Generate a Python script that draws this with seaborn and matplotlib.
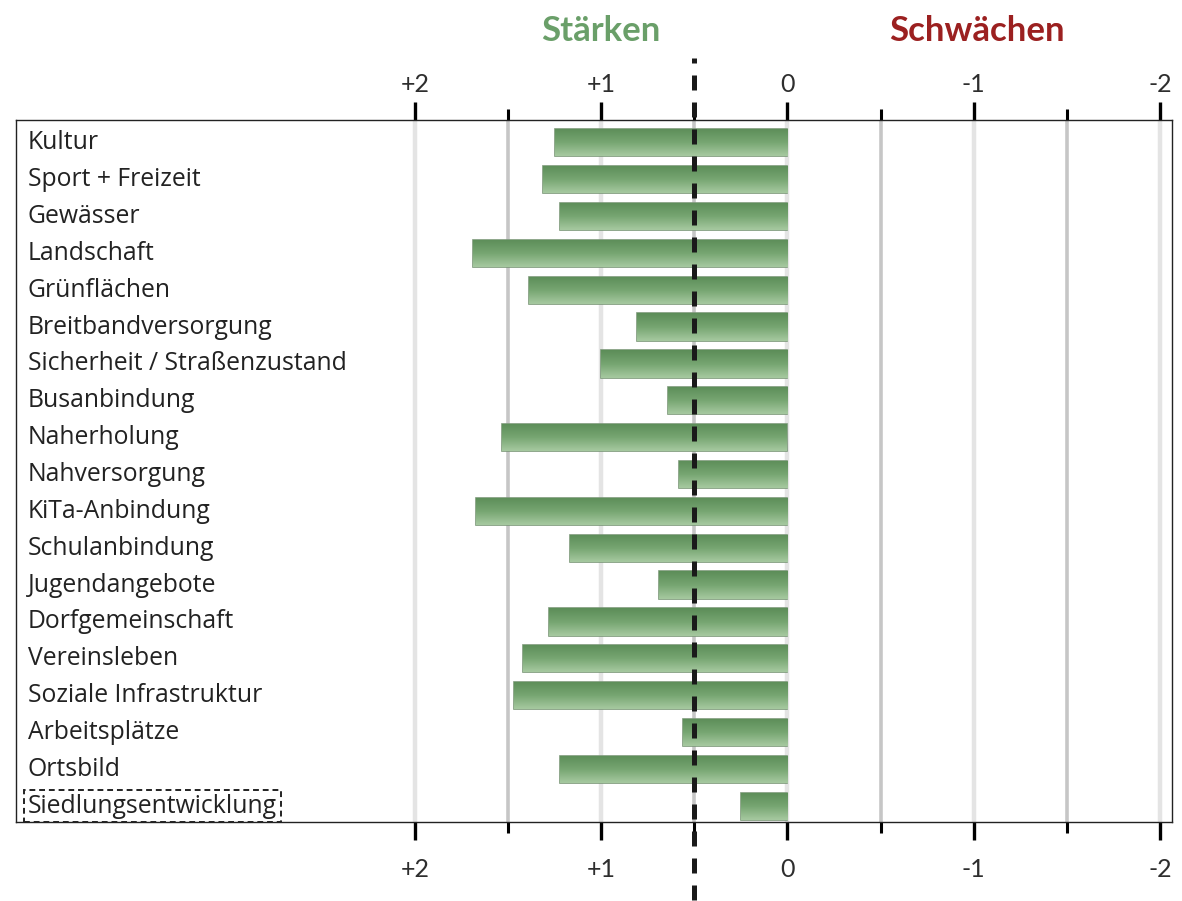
import numpy as np
import pandas as pd
import matplotlib
matplotlib.use("Agg")
import matplotlib.pyplot as plt
from matplotlib.ticker import FixedLocator
import seaborn as sns

# Werte (positiv = Stärke)
kategorien = ["Kultur", "Sport + Freizeit", "Gewässer", "Landschaft", "Grünflächen",
              "Breitbandversorgung", "Sicherheit / Straßenzustand", "Busanbindung",
              "Naherholung", "Nahversorgung", "KiTa-Anbindung", "Schulanbindung",
              "Jugendangebote", "Dorfgemeinschaft", "Vereinsleben", "Soziale Infrastruktur",
              "Arbeitsplätze", "Ortsbild", "Siedlungsentwicklung"]
werte = [1.25, 1.31, 1.22, 1.69, 1.39, 0.81, 1.00, 0.64, 1.53, 0.58, 1.67, 1.17,
         0.69, 1.28, 1.42, 1.47, 0.56, 1.22, 0.25]
tick_werte = [2, 1, 0, -1, -2]
tick_texte = ["+2", "+1", "0", "-1", "-2"]
halbe_ticks = [1.5, 0.5, -0.5, -1.5]

df = pd.DataFrame({"Kategorie": kategorien, "Wert": werte})

sns.set_style("white")
plt.rcParams["font.family"] = ["Open Sans", "DejaVu Sans"]

fig = plt.figure(figsize=(11.82, 9.01), dpi=100)
ax = fig.add_axes([0.0135, 0.0877, 0.978, 0.7791])

sns.barplot(data=df, x="Wert", y="Kategorie", orient="h", color="#6f9f6b",
            width=0.74, edgecolor="#7b9878", linewidth=1.2, ax=ax, zorder=3)

# Farbverlauf in den Balken
grad = np.linspace(0, 1, 64).reshape(-1, 1)
cmap = matplotlib.colors.LinearSegmentedColormap.from_list("g", ["#5c8d58", "#76a571", "#a6c9a0"])
for p in ax.patches:
    x0, y0 = p.get_x(), p.get_y()
    w, h = p.get_width(), p.get_height()
    im = ax.imshow(grad, cmap=cmap, aspect="auto", extent=[x0, x0 + w, y0 + h, y0],
                   zorder=3.1, interpolation="bicubic")
    im.set_clip_path(p)

ax.set_xlim(4.142, -2.064)
ax.set_ylim(18.43, -0.62)

major_kw = dict(direction="out", length=13, width=2.4, color="black", labelsize=18,
                labelcolor="#2e2e2e")
minor_kw = dict(direction="out", length=8, width=2.2, color="black")

# unten
ax.set_xticks(tick_werte, tick_texte)
ax.xaxis.set_minor_locator(FixedLocator(halbe_ticks))
ax.tick_params(axis="x", which="major", pad=13, bottom=True, top=False, **major_kw)
ax.tick_params(axis="x", which="minor", bottom=True, top=False, **minor_kw)

# oben
top = ax.secondary_xaxis("top")
top.set_xticks(tick_werte, tick_texte)
top.xaxis.set_minor_locator(FixedLocator(halbe_ticks))
top.tick_params(axis="x", which="major", pad=4, top=True, labeltop=True, **major_kw)
top.tick_params(axis="x", which="minor", top=True, **minor_kw)
top.spines["top"].set_visible(False)

for a in (ax, top):
    for lab in a.get_xticklabels():
        lab.set_fontfamily(["Lato", "DejaVu Sans"])

ax.grid(which="major", axis="x", color="#e4e4e4", lw=3.2, zorder=0)
ax.grid(which="minor", axis="x", color="#c6c6c6", lw=2.6, zorder=0)
ax.set_axisbelow(True)

ax.set_yticks([])
ax.set_xlabel("")
ax.set_ylabel("")
for s in ax.spines.values():
    s.set_visible(True)
    s.set_color("#222222")
    s.set_linewidth(1.0)

# Kategorienamen innen links
for i, k in enumerate(kategorien):
    t = ax.text(0.0103, i, k, transform=ax.get_yaxis_transform(), ha="left", va="center",
                fontsize=17.8, color="#222222", zorder=5)
    if k == "Siedlungsentwicklung":
        t.set_bbox(dict(boxstyle="square,pad=0.15", facecolor="none", edgecolor="#222222",
                        linestyle=(0, (3, 2)), linewidth=1.4))

# gestrichelte Mittellinie
ax.axvline(0.5, ymin=-0.111, ymax=1.088, color="#1a1a1a", lw=3.6,
           linestyle=(0, (3, 2.4)), clip_on=False, zorder=6)

fig.text(0.5085, 0.966, "Stärken", ha="center", va="center", fontsize=25,
         fontweight="bold", color="#6a9f69", family=["Lato", "DejaVu Sans"])
fig.text(0.8265, 0.966, "Schwächen", ha="center", va="center", fontsize=25,
         fontweight="bold", color="#9b2020", family=["Lato", "DejaVu Sans"])

fig.savefig("out.png", dpi=100)
